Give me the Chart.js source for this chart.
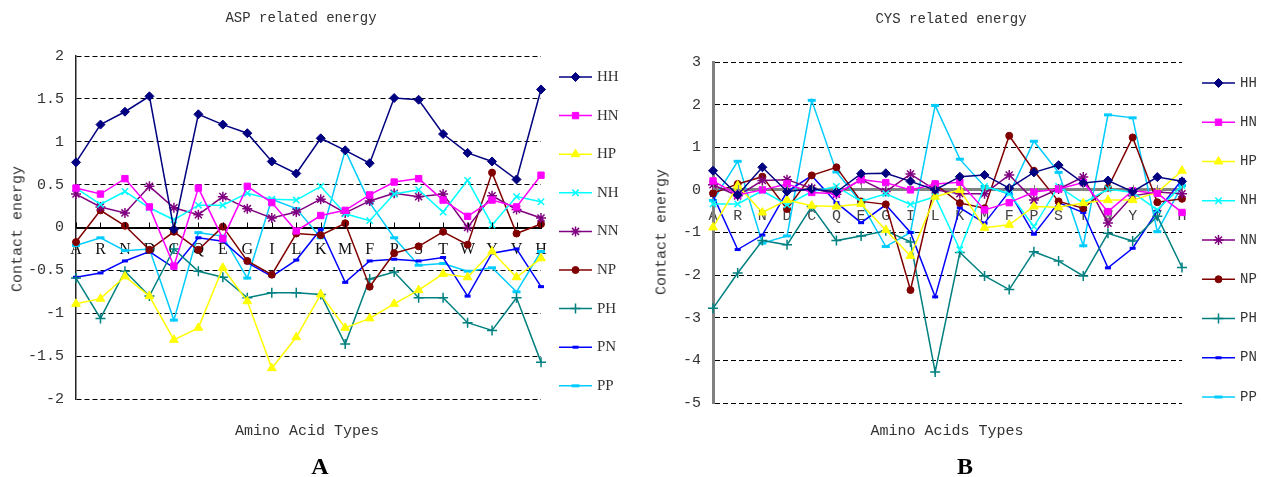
<!DOCTYPE html>
<html>
<head>
<meta charset="utf-8">
<script src="https://cdn.jsdelivr.net/npm/chart.js@4.4.0/dist/chart.umd.min.js"></script>
<style>
  body { margin: 0; background: #fff; width: 1261px; height: 477px; overflow: hidden; position: relative; }
  .box { position: absolute; top: 0; height: 477px; }
  .txt { position: absolute; white-space: nowrap; color: #333; font-family: "Liberation Mono", monospace; transform: translate(-50%, -50%); }
  .panel { font-family: "Liberation Serif", serif; font-weight: bold; font-size: 24px; color: #000; }
</style>
</head>
<body>
<div class="box" style="left:0;width:640px"><canvas id="aspChart"></canvas></div>
<div class="box" style="left:640px;width:621px"><canvas id="cysChart"></canvas></div>

<div class="txt" style="left:301px;top:18px;font-size:14px">ASP related energy</div>
<div class="txt" style="left:951px;top:19px;font-size:14px">CYS related energy</div>
<div class="txt" style="left:18px;top:229px;font-size:15px;transform:translate(-50%,-50%) rotate(-90deg)">Contact energy</div>
<div class="txt" style="left:662px;top:232px;font-size:15px;transform:translate(-50%,-50%) rotate(-90deg)">Contact energy</div>
<div class="txt" style="left:307px;top:431px;font-size:15px">Amino Acid Types</div>
<div class="txt" style="left:947px;top:431px;font-size:15px">Amino Acids Types</div>
<div class="txt panel" style="left:320px;top:466px">A</div>
<div class="txt panel" style="left:965px;top:466px">B</div>

<script>
// amino acids on the x axis
const aminoAcids = ["A", "R", "N", "D", "C", "Q", "E", "G", "I", "L", "K", "M", "F", "P", "S", "T", "W", "Y", "V", "H"];
const seriesNames = ["HH", "HN", "HP", "NH", "NN", "NP", "PH", "PN", "PP"];

// ASP related energy
const aspHH = [0.76, 1.20, 1.35, 1.53, -0.02, 1.32, 1.20, 1.10, 0.77, 0.63, 1.04, 0.90, 0.75, 1.51, 1.49, 1.09, 0.87, 0.77, 0.56, 1.61];
const aspHN = [0.46, 0.39, 0.57, 0.24, -0.45, 0.46, -0.13, 0.48, 0.29, -0.04, 0.14, 0.20, 0.38, 0.53, 0.57, 0.32, 0.13, 0.32, 0.24, 0.61];
const aspHP = [-0.89, -0.83, -0.57, -0.80, -1.31, -1.17, -0.47, -0.86, -1.64, -1.28, -0.78, -1.17, -1.06, -0.89, -0.73, -0.54, -0.58, -0.28, -0.58, -0.36];
const aspNH = [0.46, 0.27, 0.42, 0.23, 0.09, 0.26, 0.26, 0.40, 0.33, 0.32, 0.48, 0.16, 0.08, 0.39, 0.44, 0.18, 0.55, 0.03, 0.36, 0.30];
const aspNN = [0.39, 0.24, 0.17, 0.48, 0.23, 0.15, 0.36, 0.22, 0.11, 0.18, 0.33, 0.17, 0.31, 0.40, 0.36, 0.39, 0.00, 0.37, 0.21, 0.11];
const aspNP = [-0.17, 0.20, 0.02, -0.26, -0.05, -0.26, 0.01, -0.39, -0.55, -0.07, -0.09, 0.05, -0.69, -0.30, -0.22, -0.05, -0.20, 0.64, -0.07, 0.04];
const aspPH = [-0.59, -1.06, -0.51, -0.80, -0.25, -0.51, -0.58, -0.82, -0.76, -0.76, -0.78, -1.36, -0.60, -0.52, -0.82, -0.82, -1.11, -1.20, -0.82, -1.57];
const aspPN = [-0.58, -0.53, -0.39, -0.28, -0.47, -0.12, -0.16, -0.41, -0.57, -0.38, -0.02, -0.64, -0.39, -0.37, -0.39, -0.35, -0.80, -0.30, -0.25, -0.69];
const aspPP = [-0.21, -0.12, -0.27, -0.25, -1.08, -0.06, -0.10, -0.59, 0.33, 0.22, -0.12, 0.90, 0.29, -0.12, -0.44, -0.42, -0.51, -0.47, -0.75, -0.28];

// CYS related energy
const cysHH = [0.45, -0.12, 0.53, -0.04, 0.02, -0.05, 0.38, 0.39, 0.20, 0.00, 0.31, 0.35, 0.04, 0.41, 0.58, 0.16, 0.22, -0.04, 0.30, 0.20];
const cysHN = [0.21, -0.12, 0.00, 0.14, -0.06, -0.09, 0.24, 0.17, 0.00, 0.14, 0.18, -0.47, -0.30, -0.05, 0.02, 0.17, -0.51, -0.02, -0.08, -0.53];
const cysHP = [-0.88, 0.10, -0.53, -0.24, -0.37, -0.39, -0.33, -0.94, -1.55, -0.16, 0.00, -0.89, -0.82, -0.39, -0.41, -0.31, -0.24, -0.24, -0.06, 0.45];
const cysNH = [-0.33, -0.33, -0.02, -0.35, -0.04, 0.08, -0.27, -0.09, -0.34, -0.16, -1.40, 0.08, -0.08, -0.86, 0.08, -0.31, 0.02, -0.06, -0.47, 0.10];
const cysNN = [0.12, -0.14, 0.22, 0.24, 0.04, -0.10, 0.24, -0.04, 0.37, 0.00, -0.09, -0.09, 0.35, -0.24, 0.02, 0.30, -0.78, -0.14, -0.05, -0.09];
const cysNP = [-0.08, 0.14, 0.31, -0.45, 0.34, 0.53, -0.27, -0.34, -2.35, 0.13, -0.31, -0.43, 1.27, 0.45, -0.27, -0.43, 0.05, 1.23, -0.29, -0.21];
const cysPH = [-2.78, -1.95, -1.19, -1.29, -0.39, -1.19, -1.08, -0.96, -1.22, -4.27, -1.47, -2.02, -2.34, -1.45, -1.67, -2.02, -1.02, -1.20, -0.62, -1.82];
const cysPN = [-0.13, -1.40, -1.06, -0.04, 0.33, -0.30, -0.77, -0.35, -1.00, -2.51, -0.42, -0.78, -0.04, -1.04, -0.30, -0.53, -1.83, -1.37, -0.50, 0.24];
const cysPP = [-0.25, 0.67, -1.25, -1.08, 2.10, 0.42, -0.30, -1.33, -1.00, 1.98, 0.72, 0.08, -0.10, 1.14, 0.41, -1.31, 1.76, 1.69, -0.98, 0.10];

// y axis ranges / steps
const aspTicks = { min: -2, max: 2, step: 0.5 };
const cysTicks = { min: -5, max: 3, step: 1 };

// look of each series (colour, marker, marker size, marker line width)
const seriesStyle = [
  { color: "#000080", point: "rectRot", r: 4.5, bw: 1 },
  { color: "#ff00ff", point: "rect", r: 4.5, bw: 1 },
  { color: "#ffff00", point: "triangle", r: 5, bw: 1 },
  { color: "#00ffff", point: "crossRot", r: 4.5, bw: 1.5 },
  { color: "#800080", point: "star", r: 5, bw: 1.5 },
  { color: "#800000", point: "circle", r: 3.5, bw: 1 },
  { color: "#008080", point: "cross", r: 5, bw: 1.5 },
  { color: "#0000ff", point: "line", r: 3, bw: 3 },
  { color: "#00ccff", point: "line", r: 4, bw: 3 },
];

function makeDatasets(rows) {
  return rows.map((row, i) => {
    const s = seriesStyle[i];
    return {
      label: seriesNames[i],
      data: row,
      borderColor: s.color,
      backgroundColor: s.color,
      pointBackgroundColor: s.color,
      pointBorderColor: s.color,
      pointStyle: s.point,
      pointRadius: s.r,
      pointBorderWidth: s.bw,
      borderWidth: 1.5,
      tension: 0,
      clip: false,
    };
  });
}

// legend drawn as line + marker, like the original
const sideLegend = {
  id: "sideLegend",
  afterDraw(chart, args, opts) {
    const ctx = chart.ctx;
    ctx.save();
    chart.data.datasets.forEach((ds, i) => {
      const y = opts.top + i * opts.step;
      ctx.strokeStyle = ds.borderColor;
      ctx.lineWidth = 1.5;
      ctx.beginPath();
      ctx.moveTo(opts.x1, y);
      ctx.lineTo(opts.x2, y);
      ctx.stroke();
      if (Chart.helpers && Chart.helpers.drawPoint) {
        ctx.fillStyle = ds.pointBackgroundColor;
        ctx.strokeStyle = ds.pointBorderColor;
        ctx.lineWidth = ds.pointBorderWidth;
        Chart.helpers.drawPoint(ctx, { pointStyle: ds.pointStyle, radius: ds.pointRadius, rotation: 0, borderWidth: ds.pointBorderWidth }, (opts.x1 + opts.x2) / 2, y);
      }
      ctx.fillStyle = "#333";
      ctx.font = opts.font;
      ctx.textBaseline = "middle";
      ctx.textAlign = "left";
      ctx.fillText(ds.label, opts.textX, y);
    });
    ctx.restore();
  },
};

// small upward tick marks on the zero line
const zeroTicks = {
  id: "zeroTicks",
  afterDraw(chart, args, opts) {
    const x = chart.scales.x, y = chart.scales.y;
    const y0 = y.getPixelForValue(0);
    const ctx = chart.ctx;
    ctx.save();
    ctx.strokeStyle = opts.color;
    ctx.lineWidth = 1;
    aminoAcids.forEach((a, i) => {
      const px = Math.round(x.getPixelForValue(i)) + 0.5;
      ctx.beginPath();
      ctx.moveTo(px, y0);
      ctx.lineTo(px, y0 - 5);
      ctx.stroke();
    });
    ctx.restore();
  },
};

function makeChart(id, rows, range, cfg) {
  return new Chart(document.getElementById(id).getContext("2d"), {
    type: "line",
    data: { labels: aminoAcids, datasets: makeDatasets(rows) },
    plugins: [zeroTicks, sideLegend],
    options: {
      responsive: true,
      maintainAspectRatio: false,
      animation: false,
      layout: { padding: cfg.padding },
      scales: {
        x: {
          type: "category",
          position: { y: 0 },
          offset: false,
          grid: { display: false },
          border: { display: true, color: cfg.zeroColor, width: cfg.zeroWidth },
          ticks: { color: cfg.catColor, font: cfg.catFont, padding: cfg.catPad, autoSkip: false, maxRotation: 0 },
        },
        y: {
          min: range.min,
          max: range.max,
          afterFit: (s) => { s.width = cfg.axisX; },
          grid: { color: "#000", lineWidth: 1, drawTicks: false },
          border: { display: true, color: cfg.axisColor, width: cfg.axisWidth, dash: [5, 3] },
          ticks: {
            stepSize: range.step,
            color: "#333",
            padding: 12,
            font: { family: "Liberation Mono", size: 15 },
            callback: (v) => String(Math.round(v * 10) / 10),
          },
        },
      },
      plugins: {
        legend: { display: false },
        tooltip: { enabled: false },
        sideLegend: cfg.legend,
        zeroTicks: { color: cfg.zeroColor },
      },
    },
  });
}

makeChart("aspChart", [aspHH, aspHN, aspHP, aspNH, aspNN, aspNP, aspPH, aspPN, aspPP], aspTicks, {
  padding: { left: 0, right: 99, top: 56, bottom: 78 },
  axisX: 76,
  axisColor: "#222",
  axisWidth: 1.5,
  zeroColor: "#000",
  zeroWidth: 2,
  catColor: "#111",
  catFont: { family: "Liberation Serif", size: 16 },
  catPad: 5,
  legend: { x1: 559, x2: 592, textX: 597, top: 77, step: 38.6, font: '15px "Liberation Serif"' },
});

makeChart("cysChart", [cysHH, cysHN, cysHP, cysNH, cysNN, cysNP, cysPH, cysPN, cysPP], cysTicks, {
  padding: { left: 0, right: 79, top: 62, bottom: 74 },
  axisX: 73,
  axisColor: "#808080",
  axisWidth: 3,
  zeroColor: "#808080",
  zeroWidth: 3,
  catColor: "#444",
  catFont: { family: "Liberation Mono", size: 15 },
  catPad: 9,
  legend: { x1: 562, x2: 595, textX: 600, top: 83, step: 39.25, font: '14px "Liberation Mono"' },
});
</script>
</body>
</html>
